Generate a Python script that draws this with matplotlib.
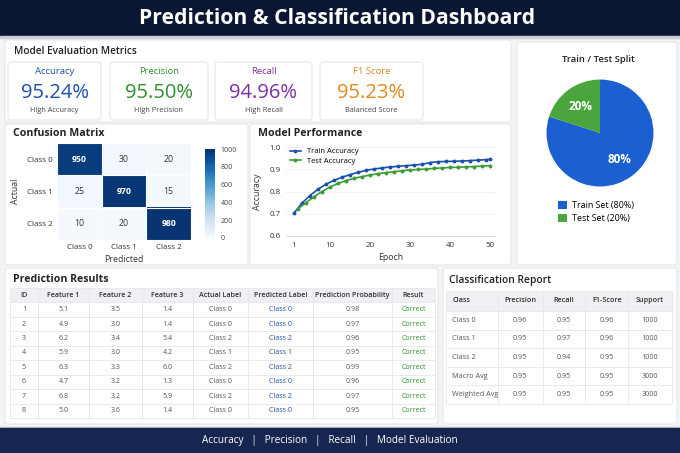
"""Prediction & Classification dashboard, single static PNG."""
import numpy as np
import matplotlib
matplotlib.use("Agg")
import matplotlib.pyplot as plt
from matplotlib.patches import Rectangle, FancyBboxPatch

plt.rcParams["font.family"] = ["Open Sans", "DejaVu Sans"]

W, H = 680, 453

# ---- data -------------------------------------------------------------
metric_names = ["Accuracy", "Precision", "Recall", "F1 Score"]
metric_values = ["95.24%", "95.50%", "94.96%", "95.23%"]
metric_notes = ["High Accuracy", "High Precision", "High Recall", "Balanced Score"]

classes = ["Class 0", "Class 1", "Class 2"]
conf_mat = np.array([[950, 30, 20],
                     [25, 970, 15],
                     [10, 20, 980]])

train_epochs = [1, 3, 5, 7, 9, 11, 13, 15, 17, 19, 21, 23, 25, 27, 29, 31, 33,
                35, 37, 39, 41, 43, 45, 47, 49, 50]
train_acc = [0.703, 0.748, 0.782, 0.810, 0.833, 0.850, 0.864, 0.876, 0.886, 0.895,
             0.901, 0.906, 0.910, 0.913, 0.916, 0.919, 0.922, 0.930, 0.934, 0.935,
             0.936, 0.937, 0.939, 0.941, 0.943, 0.944]
test_epochs = [2, 4, 6, 8, 10, 12, 14, 16, 18, 20, 22, 24, 26, 28, 30, 32, 34,
               36, 38, 40, 42, 44, 46, 48, 50]
test_acc = [0.722, 0.750, 0.776, 0.800, 0.820, 0.836, 0.849, 0.859, 0.867, 0.874,
            0.880, 0.885, 0.889, 0.893, 0.897, 0.899, 0.901, 0.904, 0.906, 0.908,
            0.909, 0.911, 0.912, 0.914, 0.916]

split_labels = ["Train Set (80%)", "Test Set (20%)"]
split_sizes = [80, 20]

pred_cols = ["ID", "Feature 1", "Feature 2", "Feature 3", "Actual Label",
             "Predicted Label", "Prediction Probability", "Result"]
pred_ids = ["1", "2", "3", "4", "5", "6", "7", "8"]
feat1 = ["5.1", "4.9", "6.2", "5.9", "6.3", "4.7", "6.8", "5.0"]
feat2 = ["3.5", "3.0", "3.4", "3.0", "3.3", "3.2", "3.2", "3.6"]
feat3 = ["1.4", "1.4", "5.4", "4.2", "6.0", "1.3", "5.9", "1.4"]
actual = ["Class 0", "Class 0", "Class 2", "Class 1", "Class 2", "Class 0", "Class 2", "Class 0"]
predicted = ["Class 0", "Class 0", "Class 2", "Class 1", "Class 2", "Class 0", "Class 2", "Class 0"]
probs = ["0.98", "0.97", "0.96", "0.95", "0.99", "0.96", "0.97", "0.95"]
result = ["Correct"] * 8

rep_cols = ["Class", "Precision", "Recall", "F1-Score", "Support"]
rep_rows = ["Class 0", "Class 1", "Class 2", "Macro Avg", "Weighted Avg"]
rep_prec = ["0.96", "0.95", "0.95", "0.95", "0.95"]
rep_rec = ["0.95", "0.97", "0.94", "0.95", "0.95"]
rep_f1 = ["0.96", "0.96", "0.95", "0.95", "0.95"]
rep_support = ["1000", "1000", "1000", "3000", "3000"]

# ---- style ------------------------------------------------------------
NAVY = "#0b1633"
FOOT = "#172650"
BG = "#f3f4f6"
BORDER = "#e1e4e8"
BLUE = "#1d4fae"
GREEN = "#2f8f2f"
PURPLE = "#7d2ea6"
ORANGE = "#e08b1c"
metric_colors = [BLUE, GREEN, PURPLE, ORANGE]
TXT = "#333333"


def px_axes(fig, x0, y0, x1, y1):
    return fig.add_axes([x0 / W, 1 - y1 / H, (x1 - x0) / W, (y1 - y0) / H])


fig = plt.figure(figsize=(W / 100, H / 100), dpi=100)
fig.patch.set_facecolor(BG)

bg = fig.add_axes([0, 0, 1, 1])
bg.set_xlim(0, W)
bg.set_ylim(H, 0)
bg.axis("off")

# header / footer
bg.add_patch(Rectangle((0, 0), W, 36, color=NAVY, zorder=1))
bg.add_patch(Rectangle((0, 36), W, 1.5, color="#c9ced8", zorder=1))
bg.text(W / 2 - 3, 18.5, "Prediction & Classification Dashboard", color="white",
        fontsize=15.2, fontweight="bold", ha="center", va="center")
bg.add_patch(Rectangle((0, 427), W, 1.5, color="#c9ced8", zorder=1))
bg.add_patch(Rectangle((0, 428), W, 25, color=FOOT, zorder=1))
bg.text(330, 440, "Accuracy   |   Precision   |   Recall   |   Model Evaluation",
        color="white", fontsize=7.2, ha="center", va="center")

# panels
def panel(x, y, w, h):
    bg.add_patch(FancyBboxPatch((x, y), w, h, boxstyle="round,pad=0,rounding_size=3",
                                fc="white", ec=BORDER, lw=0.7, zorder=1))

panel(5, 40, 506, 82)
panel(5, 124, 243, 141)
panel(250, 124, 261, 141)
panel(517, 42, 160, 223)
panel(5, 268, 433, 156)
panel(443, 268, 234, 156)

bg.text(14, 52, "Model Evaluation Metrics", fontsize=7.2, fontweight="semibold",
        color="#222", va="center")
bg.text(13, 133, "Confusion Matrix", fontsize=7.6, fontweight="bold", color="#222", va="center")
bg.text(258, 133, "Model Performance", fontsize=7.6, fontweight="bold", color="#222", va="center")
bg.text(598, 59, "Train / Test Split", fontsize=6.8, fontweight="semibold", color="#222",
        ha="center", va="center")
bg.text(13, 279, "Prediction Results", fontsize=7.6, fontweight="bold", color="#222", va="center")
bg.text(449, 281, "Classification Report", fontsize=7.4, fontweight="semibold", color="#222",
        va="center")

# metric cards
card_pos = [(8, 93), (110, 98), (215, 97), (320, 103)]
for (cx, cw), name, val, note, col in zip(card_pos, metric_names, metric_values,
                                          metric_notes, metric_colors):
    bg.add_patch(FancyBboxPatch((cx, 62), cw, 58, boxstyle="round,pad=0,rounding_size=3",
                                fc="white", ec=BORDER, lw=0.7, zorder=2))
    mid = cx + cw / 2
    bg.text(mid, 72, name, color=col, fontsize=6.8, ha="center", va="center", zorder=3)
    bg.text(mid, 93, val, color=col, fontsize=14.5, ha="center", va="center", zorder=3)
    bg.text(mid, 111, note, color="#444", fontsize=5.3, ha="center", va="center", zorder=3)

# confusion matrix
ax_cm = px_axes(fig, 57, 143, 191, 240)
im = ax_cm.imshow(conf_mat, cmap="Blues", vmin=0, vmax=1000, aspect="auto")
for i in range(3):
    for j in range(3):
        v = conf_mat[i, j]
        ax_cm.text(j, i, str(v), ha="center", va="center", fontsize=6.3,
                   color="white" if v > 500 else "#333",
                   fontweight="bold" if v > 500 else "normal")
ax_cm.set_xticks(range(3))
ax_cm.set_xticklabels(classes, fontsize=5.8, color=TXT)
ax_cm.set_yticks(range(3))
ax_cm.set_yticklabels(classes, fontsize=5.8, color=TXT)
ax_cm.tick_params(length=0, pad=3)
ax_cm.set_xticks(np.arange(-0.5, 3, 1), minor=True)
ax_cm.set_yticks(np.arange(-0.5, 3, 1), minor=True)
ax_cm.grid(which="minor", color="white", lw=0.8)
ax_cm.tick_params(which="minor", length=0)
for s in ax_cm.spines.values():
    s.set_visible(False)
ax_cm.set_xlabel("Predicted", fontsize=6.3, color=TXT, labelpad=3)
ax_cm.set_ylabel("Actual", fontsize=6.3, color=TXT, labelpad=5)

ax_cb = px_axes(fig, 205, 149, 215, 238)
cb = fig.colorbar(im, cax=ax_cb, ticks=[0, 200, 400, 600, 800, 1000])
cb.outline.set_visible(False)
ax_cb.tick_params(labelsize=5, length=0, pad=4, colors="#444")

# model performance
ax_lp = px_axes(fig, 286, 147, 495, 236)
ax_lp.plot(train_epochs, train_acc, color=BLUE, lw=1.2, marker="o", ms=1.8,
           label="Train Accuracy")
ax_lp.plot(test_epochs, test_acc, color="#3c9c36", lw=1.2, marker="o", ms=1.8,
           label="Test Accuracy")
ax_lp.set_xlim(-1, 51.25)
ax_lp.set_ylim(0.6, 1.0)
ax_lp.set_xticks([1, 10, 20, 30, 40, 50])
ax_lp.set_yticks([0.6, 0.7, 0.8, 0.9, 1.0])
ax_lp.tick_params(labelsize=5.8, length=0, colors=TXT, pad=4)
ax_lp.grid(axis="y", color="#eeeeee", lw=0.6)
for k in ["top", "right", "left"]:
    ax_lp.spines[k].set_visible(False)
ax_lp.spines["bottom"].set_color("#dddddd")
ax_lp.set_xlabel("Epoch", fontsize=6.3, color=TXT, labelpad=3)
ax_lp.set_ylabel("Accuracy", fontsize=6.3, color=TXT, labelpad=5)
ax_lp.legend(loc="upper left", fontsize=5.5, frameon=False, handlelength=1.4,
             borderaxespad=0.1, labelspacing=0.3, bbox_to_anchor=(0.0, 1.03))

# pie
ax_pie = px_axes(fig, 546, 79, 654, 187)
wedges, _, autotexts = ax_pie.pie(split_sizes, colors=["#1c5fd0", "#4aa63c"],
                                  startangle=90, counterclock=False,
                                  autopct="%d%%", pctdistance=0.62,
                                  wedgeprops=dict(lw=0))
for t in autotexts:
    t.set_color("white")
    t.set_fontsize(8.5)
    t.set_fontweight("bold")
ax_pie.set_xlim(-1.01, 1.01)
ax_pie.set_ylim(-1.01, 1.01)
ax_pie.set_aspect("equal")
fig.legend(wedges, split_labels, loc="upper left", bbox_to_anchor=(550 / W, 1 - 193 / H),
           frameon=False, fontsize=6.4, handlelength=1.0, handleheight=1.0,
           handletextpad=0.6, labelspacing=0.4)

# prediction results table
ax_t1 = px_axes(fig, 10, 288, 435, 418)
ax_t1.axis("off")
cells = [list(r) for r in zip(pred_ids, feat1, feat2, feat3, actual, predicted, probs, result)]
widths = np.array([28, 51, 53, 51, 55, 65, 79, 43], dtype=float)
t1 = ax_t1.table(cellText=cells, colLabels=pred_cols, colWidths=list(widths / widths.sum()),
                 cellLoc="center", bbox=[0, 0, 1, 1])
t1.auto_set_font_size(False)
for (r, c), cell in t1.get_celld().items():
    cell.set_edgecolor("#e6e8ec")
    cell.set_linewidth(0.6)
    cell.get_text().set_fontsize(5.1)
    if r == 0:
        cell.set_facecolor("#eef0f3")
        cell.get_text().set_color("#333")
        cell.get_text().set_fontweight("semibold")
    else:
        cell.set_facecolor("white")
        col = "#555"
        if c == 5:
            col = BLUE
        elif c == 7:
            col = GREEN
        cell.get_text().set_color(col)

# classification report table
ax_t2 = px_axes(fig, 446, 291, 672, 404)
ax_t2.axis("off")
cells2 = [list(r) for r in zip(rep_rows, rep_prec, rep_rec, rep_f1, rep_support)]
widths2 = np.array([52, 45, 43, 43, 44], dtype=float)
t2 = ax_t2.table(cellText=cells2, colLabels=rep_cols, colWidths=list(widths2 / widths2.sum()),
                 cellLoc="center", bbox=[0, 0, 1, 1])
t2.auto_set_font_size(False)
for (r, c), cell in t2.get_celld().items():
    cell.set_edgecolor("#e6e8ec")
    cell.set_linewidth(0.6)
    cell.get_text().set_fontsize(5.2)
    cell.set_height(20 / 113.5 if r == 0 else 18.7 / 113.5)
    if r == 0:
        cell.set_facecolor("#eef0f3")
        cell.get_text().set_color("#333")
        cell.get_text().set_fontweight("semibold")
    else:
        cell.set_facecolor("white")
        cell.get_text().set_color("#555")
    if c == 0:
        cell.PAD = 0.12
        cell.get_text().set_horizontalalignment("left")

fig.savefig("out.png", dpi=100, facecolor=fig.get_facecolor())
